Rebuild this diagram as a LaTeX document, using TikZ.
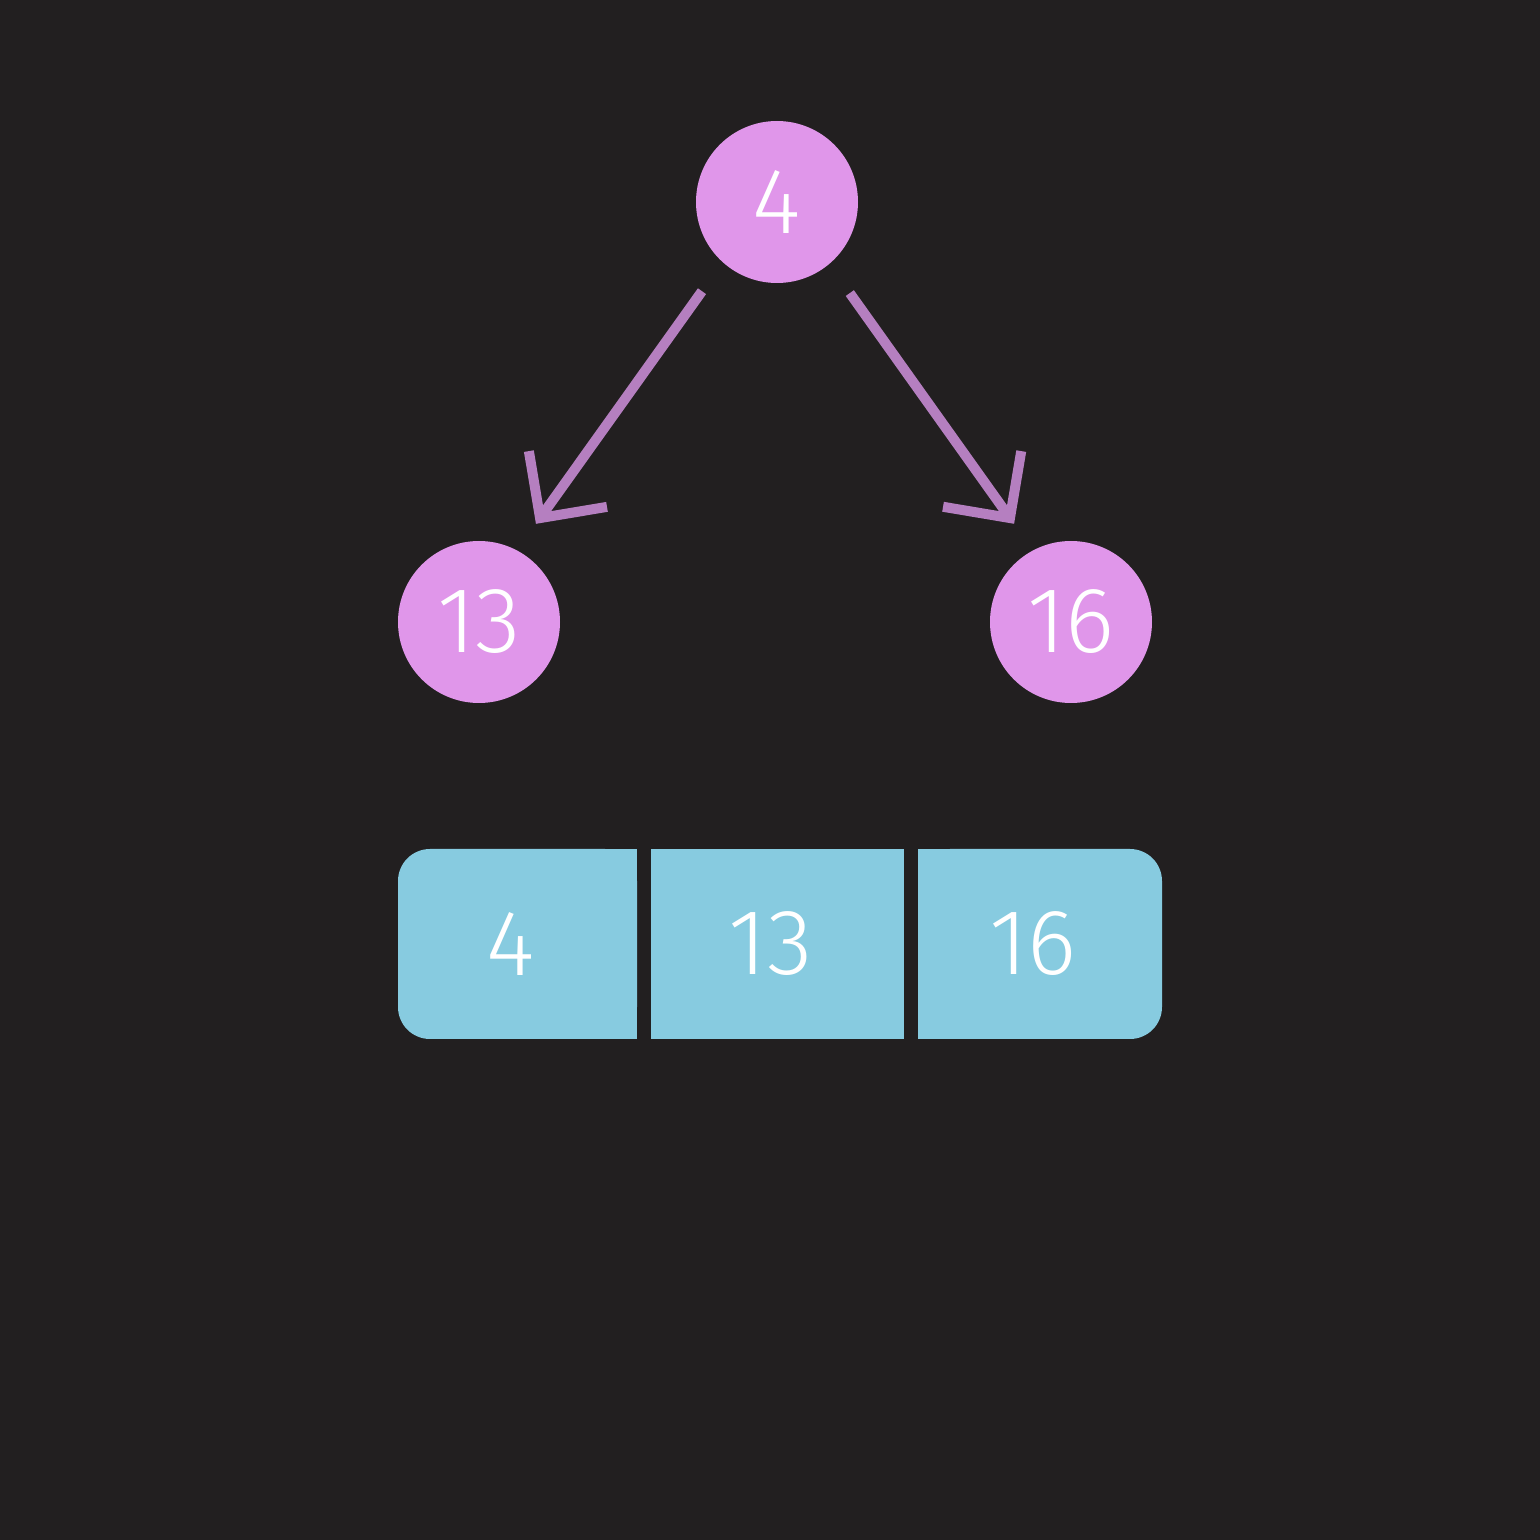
\documentclass[tikz,border=0pt]{standalone}
\usepackage{fontspec}
\setmainfont{Fira Sans}
\newfontfamily\digitfont{Fira Sans Light}
\definecolor{bgdark}{HTML}{221F20}
\definecolor{heappink}{HTML}{E096EA}
\definecolor{edgepurple}{HTML}{B57FC0}
\definecolor{cellblue}{HTML}{87CBE0}
\usetikzlibrary{arrows.meta, positioning}

\begin{document}
\begin{tikzpicture}[
  hnode/.style={circle, fill=heappink, minimum size=1.62cm, inner sep=0pt, text=white, font=\digitfont\fontsize{26.5}{30}\selectfont},
  hedge/.style={draw=edgepurple, line width=0.1cm, -{Straight Barb[length=0.48cm, width=0.96cm]}, shorten <=0.35cm, shorten >=0.32cm},
  cell/.style={fill=cellblue, minimum height=1.9cm, inner sep=0pt, outer sep=0pt, text=white, font=\digitfont\fontsize{26.5}{30}\selectfont, execute at end node={\kern0.14cm}},
  endcell/.style={cell, rounded corners=0.32cm}
]
  \fill[bgdark] (0,0) rectangle (15.4,15.4);
  % the heap as a tree
  \node[hnode] (root) at (7.77, 13.38) {4};
  \node[hnode] (left) at (4.79, 9.18) {13};
  \node[hnode] (right) at (10.71, 9.18) {16};
  \draw[hedge] (root.228) -- (left.62);
  \draw[hedge] (root.310) -- (right.118);
  % the same heap as an array
  \node[endcell, minimum width=2.39cm] (c1) at (5.175, 5.96) {4};
  \node[cell, minimum width=2.53cm] (c2) at (7.775, 5.96) {13};
  \node[endcell, minimum width=2.44cm] (c3) at (10.40, 5.96) {16};
  % square off the inner corners
  \fill[cellblue] ([xshift=0.7cm]c1.north) rectangle (c1.south east);
  \fill[cellblue] (c3.north west) rectangle ([xshift=-0.7cm]c3.south);
\end{tikzpicture}
\end{document}
